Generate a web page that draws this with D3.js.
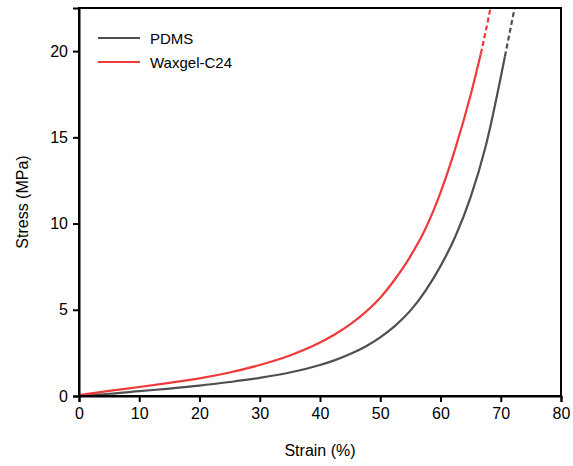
<html>
<script src="https://cdn.jsdelivr.net/npm/d3@7"></script>
<style>
body { margin: 0; background: #fff; }
text { font-family: Arial, "Liberation Sans", sans-serif; fill: #000; }
</style>
<body></body>
<script>
// values (strain %, stress MPa)
var pdmsStrain = [0, 5, 10, 15, 20, 25, 30, 35, 40, 42.5, 45, 47.5, 50, 52.5, 55, 57.5, 60, 62.5, 65, 67.5, 70.7];
var pdmsStress = [0.02, 0.13, 0.28, 0.43, 0.6, 0.81, 1.05, 1.36, 1.8, 2.08, 2.43, 2.86, 3.4, 4.08, 4.95, 6.1, 7.53, 9.28, 11.53, 14.48, 19.7];
var pdmsDashStrain = [70.7, 71.5, 72.3];
var pdmsDashStress = [19.7, 21.1, 22.5];

var waxStrain = [0, 5, 10, 15, 20, 25, 30, 35, 40, 42.5, 45, 47.5, 50, 52.5, 55, 57.5, 60, 62.5, 65, 66.7];
var waxStress = [0.05, 0.3, 0.52, 0.76, 1.02, 1.36, 1.8, 2.35, 3.1, 3.58, 4.15, 4.85, 5.7, 6.8, 8.1, 9.7, 11.8, 14.4, 17.45, 19.85];
var waxDashStrain = [66.7, 67.5, 68.3];
var waxDashStress = [19.85, 21.15, 22.5];

var xTicks = [0, 10, 20, 30, 40, 50, 60, 70, 80];
var yTicks = [0, 5, 10, 15, 20];
var names = ["PDMS", "Waxgel-C24"];
var colors = ["#4f4f4f", "#ef3a3a"];

var W = 573, H = 466;
var m = {left: 79, right: 12, top: 8, bottom: 70};

var svg = d3.select("body").append("svg")
	.attr("width", W)
	.attr("height", H);

var x = d3.scaleLinear().domain([0, 80]).range([m.left, W - m.right]);
var y = d3.scaleLinear().domain([0, 22.5]).range([H - m.bottom, m.top]);

function pts(xs, ys) {
	return xs.map(function(d, i) { return [d, ys[i]]; });
}

var line = d3.line()
	.x(function(d) { return x(d[0]); })
	.y(function(d) { return y(d[1]); })
	.curve(d3.curveMonotoneX);

var series = [
	{solid: pts(pdmsStrain, pdmsStress), dash: pts(pdmsDashStrain, pdmsDashStress), color: colors[0]},
	{solid: pts(waxStrain, waxStress), dash: pts(waxDashStrain, waxDashStress), color: colors[1]}
];

series.forEach(function(s) {
	svg.append("path")
		.attr("d", line(s.solid))
		.attr("fill", "none")
		.attr("stroke", s.color)
		.attr("stroke-width", 2.2);
	svg.append("path")
		.attr("d", line(s.dash))
		.attr("fill", "none")
		.attr("stroke", s.color)
		.attr("stroke-width", 2.2)
		.attr("stroke-dasharray", "5,3");
});

// frame
svg.append("rect")
	.attr("x", x(0))
	.attr("y", y(22.5))
	.attr("width", x(80) - x(0))
	.attr("height", y(0) - y(22.5))
	.attr("fill", "none")
	.attr("stroke", "#000")
	.attr("stroke-width", 2);

var xAxis = svg.append("g")
	.attr("transform", "translate(0," + y(0) + ")")
	.call(d3.axisBottom(x).tickValues(xTicks).tickSize(6).tickPadding(6));
var yAxis = svg.append("g")
	.attr("transform", "translate(" + x(0) + ",0)")
	.call(d3.axisLeft(y).tickValues(yTicks).tickSize(6).tickPadding(5));

[xAxis, yAxis].forEach(function(a) {
	a.select(".domain").attr("stroke-width", 2);
	a.selectAll(".tick line").attr("stroke-width", 2);
	a.selectAll(".tick text")
		.style("font-family", "Arial, 'Liberation Sans', sans-serif")
		.style("font-size", "16px")
		.attr("fill", "#000");
});

svg.append("text")
	.attr("x", (x(0) + x(80)) / 2)
	.attr("y", 456)
	.attr("text-anchor", "middle")
	.style("font-size", "16px")
	.text("Strain (%)");

svg.append("text")
	.attr("transform", "translate(28," + (y(0) + y(22.5)) / 2 + ") rotate(-90)")
	.attr("text-anchor", "middle")
	.style("font-size", "16px")
	.text("Stress (MPa)");

// legend
names.forEach(function(n, i) {
	var ly = 38 + i * 24;
	svg.append("line")
		.attr("x1", 98).attr("x2", 140)
		.attr("y1", ly).attr("y2", ly)
		.attr("stroke", colors[i])
		.attr("stroke-width", 2.2);
	svg.append("text")
		.attr("x", 150)
		.attr("y", ly + 5.5)
		.style("font-size", "15px")
		.text(n);
});
</script>
</html>
